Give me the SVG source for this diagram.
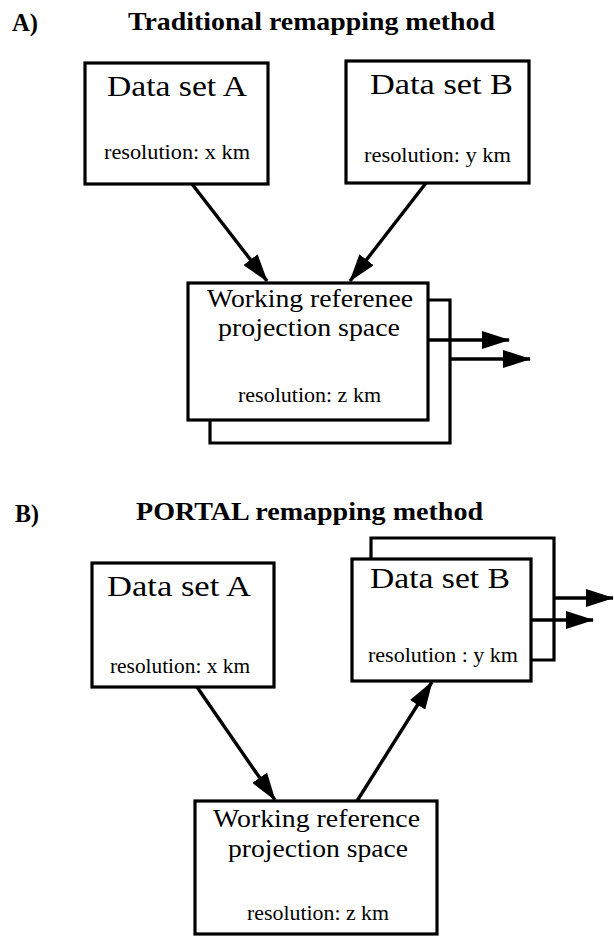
<svg xmlns="http://www.w3.org/2000/svg" width="614" height="939" viewBox="0 0 614 939">
<style>
.bg{fill:#fff}
.box{fill:#fff;stroke:#000;stroke-width:3.2}
.back{fill:none;stroke:#000;stroke-width:3.2}
.ln{fill:none;stroke:#000;stroke-width:3.4;marker-end:url(#ah)}
.t{font-family:"Liberation Serif","Times New Roman",serif;fill:#000}
.h{font-weight:bold;font-size:25px}
.big{font-size:30px}
.mid{font-size:25px}
.sm{font-size:20px}
</style>
<defs>
<marker id="ah" markerUnits="userSpaceOnUse" markerWidth="28" markerHeight="18" refX="27" refY="9" orient="auto">
<path d="M0,0 L28,9 L0,18 Z" fill="#000"/>
</marker>
</defs>
<rect class="bg" x="0" y="0" width="614" height="939"/>

<g id="titleA">
<text class="t h" x="12" y="31" textLength="26" lengthAdjust="spacingAndGlyphs">A)</text>
<text class="t h" x="128" y="30" textLength="367" lengthAdjust="spacingAndGlyphs">Traditional remapping method</text>
</g>

<g id="connectors">
<line class="ln" x1="192" y1="184" x2="267" y2="281"/>
<line class="ln" x1="426" y1="183" x2="350" y2="281"/>
<line class="ln" x1="428" y1="340" x2="509" y2="340"/>
<line class="ln" x1="450" y1="359" x2="530" y2="359"/>
<line class="ln" x1="197" y1="687" x2="275" y2="800"/>
<line class="ln" x1="357" y1="801" x2="432" y2="682"/>
<line class="ln" x1="554" y1="598" x2="613" y2="598"/>
<line class="ln" x1="531" y1="620" x2="593" y2="620"/>
</g>

<g id="A_dataA">
<rect class="box" x="85" y="63" width="183" height="121"/>
<text class="t big" x="107" y="96" textLength="140" lengthAdjust="spacingAndGlyphs">Data set A</text>
<text class="t sm" x="104" y="159" textLength="146" lengthAdjust="spacingAndGlyphs">resolution: x km</text>
</g>

<g id="A_dataB">
<rect class="box" x="346" y="61" width="183" height="122"/>
<text class="t big" x="370" y="94" textLength="143" lengthAdjust="spacingAndGlyphs">Data set B</text>
<text class="t sm" x="364" y="162" textLength="147" lengthAdjust="spacingAndGlyphs">resolution: y km</text>
</g>

<g id="A_working">
<path class="back" d="M428,300 H450 V443 H210 V420"/>
<rect class="box" x="188" y="283" width="240" height="137"/>
<text class="t mid" x="207" y="307" textLength="206" lengthAdjust="spacingAndGlyphs">Working referenee</text>
<text class="t mid" x="218" y="336" textLength="182" lengthAdjust="spacingAndGlyphs">projection space</text>
<text class="t sm" x="238" y="402" textLength="143" lengthAdjust="spacingAndGlyphs">resolution: z km</text>
</g>

<g id="titleB">
<text class="t h" x="15" y="522" textLength="24" lengthAdjust="spacingAndGlyphs">B)</text>
<text class="t h" x="136" y="520" textLength="347" lengthAdjust="spacingAndGlyphs">PORTAL remapping method</text>
</g>

<g id="B_dataA">
<rect class="box" x="92" y="563" width="182" height="124"/>
<text class="t big" x="107" y="596" textLength="144" lengthAdjust="spacingAndGlyphs">Data set A</text>
<text class="t sm" x="110" y="673" textLength="140" lengthAdjust="spacingAndGlyphs">resolution: x km</text>
</g>

<g id="B_dataB">
<path class="back" d="M371,559 V538 H554 V660 H531"/>
<rect class="box" x="352" y="559" width="179" height="122"/>
<text class="t big" x="370" y="588" textLength="140" lengthAdjust="spacingAndGlyphs">Data set B</text>
<text class="t sm" x="368" y="662" textLength="150" lengthAdjust="spacingAndGlyphs">resolution : y km</text>
</g>

<g id="B_working">
<rect class="box" x="195" y="801" width="242" height="133"/>
<text class="t mid" x="213" y="827" textLength="207" lengthAdjust="spacingAndGlyphs">Working reference</text>
<text class="t mid" x="228" y="857" textLength="180" lengthAdjust="spacingAndGlyphs">projection space</text>
<text class="t sm" x="247" y="920" textLength="142" lengthAdjust="spacingAndGlyphs">resolution: z km</text>
</g>
</svg>
